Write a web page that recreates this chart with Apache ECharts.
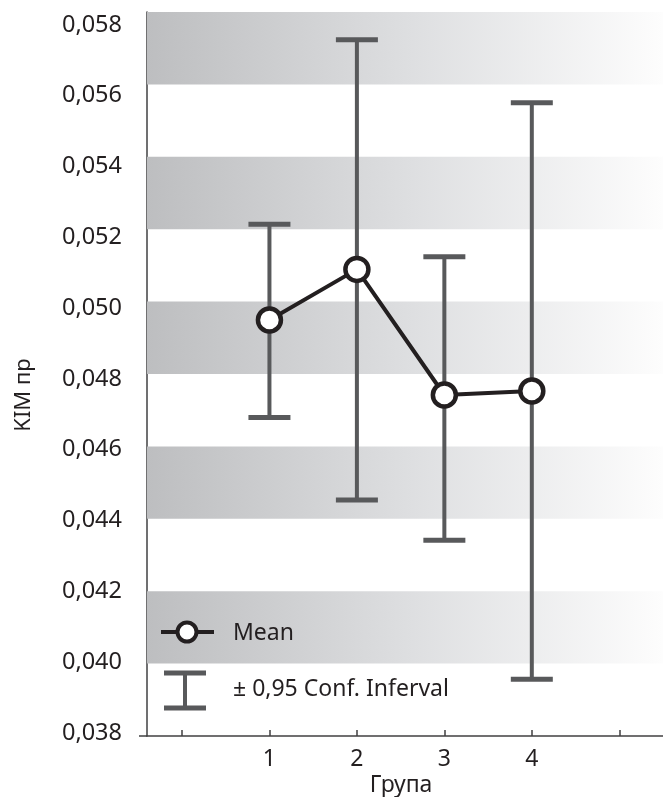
<!DOCTYPE html>
<html>
<head>
<meta charset="utf-8">
<script src="https://cdn.jsdelivr.net/npm/echarts@6/dist/echarts.min.js"></script>
<style>
html,body{margin:0;padding:0;background:#fff;}
#chart{width:663px;height:797px;}
</style>
</head>
<body>
<div id="chart"></div>
<script>
// ---- data ----
var categories = [1, 2, 3, 4];
var means   = [0.04949, 0.05089, 0.04742, 0.04753];
var ciLower = [0.04680, 0.04452, 0.04341, 0.03957];
var ciUpper = [0.05214, 0.05723, 0.05124, 0.05549];
var xTicks  = [0, 1, 2, 3, 4, 5];
var yTicks  = [0.038, 0.040, 0.042, 0.044, 0.046, 0.048, 0.050, 0.052, 0.054, 0.056, 0.058];
var bands   = [[0.040, 0.042], [0.044, 0.046], [0.048, 0.050], [0.052, 0.054], [0.056, 0.058]];
var xName = 'Група';
var yName = 'KIM пр';
var legendMean = 'Mean';
var legendCI = '± 0,95 Conf. Inferval';

var FONT = '"Noto Sans", sans-serif';
var TXT = '#231f20';
var BAR = '#58595b';
var AX = '#414042';

var chart = echarts.init(document.getElementById('chart'), null, {renderer: 'canvas'});

var bandGradient = {
  type: 'linear', x: 0, y: 0, x2: 1, y2: 0,
  colorStops: [
    {offset: 0, color: '#bdbec0'},
    {offset: 0.5, color: '#dddee0'},
    {offset: 1, color: '#fdfdfd'}
  ]
};

var lineData = categories.map(function (c, i) { return [c, means[i]]; });
var ciData = categories.map(function (c, i) { return [c, ciLower[i], ciUpper[i]]; });

var option = {
  animation: false,
  backgroundColor: '#fff',
  grid: {left: 147, right: 0, top: 12, bottom: 61, containLabel: false},
  xAxis: {
    type: 'value', min: -0.4, max: 5.5,
    axisLine: {show: true, onZero: false, lineStyle: {color: AX, width: 1.5}},
    axisTick: {show: true, inside: true, length: 6, customValues: xTicks, lineStyle: {color: AX, width: 1.5}},
    axisLabel: {show: true, customValues: categories, margin: 12, color: TXT, fontFamily: FONT, fontSize: 23},
    splitLine: {show: false}
  },
  yAxis: [
    {
      type: 'value', min: 0.038, max: 0.058, interval: 0.002,
      axisLine: {show: true, onZero: false, lineStyle: {color: AX, width: 1.5}},
      axisTick: {show: false},
      axisLabel: {show: false},
      splitLine: {show: false}
    },
    {
      type: 'value', position: 'left', min: 0.037916, max: 0.058364,
      axisLine: {show: false, onZero: false},
      axisTick: {show: false},
      splitLine: {show: false},
      axisLabel: {
        show: true, customValues: yTicks, margin: 25, color: TXT, fontFamily: FONT, fontSize: 23.5,
        formatter: function (v) { return v.toFixed(3).replace('.', ','); }
      }
    }
  ],
  series: [
    {
      name: 'bands', type: 'line', data: [], z: 0, silent: true,
      markArea: {
        silent: true,
        itemStyle: {color: bandGradient},
        data: bands.map(function (b) { return [{yAxis: b[0]}, {yAxis: b[1]}]; })
      }
    },
    {
      name: legendCI, type: 'custom', z: 2, data: ciData, silent: true,
      renderItem: function (params, api) {
        var x = api.value(0);
        var lo = api.coord([x, api.value(1)]);
        var hi = api.coord([x, api.value(2)]);
        var hw = 21;
        return {
          type: 'group',
          children: [
            {type: 'line', shape: {x1: lo[0], y1: lo[1], x2: hi[0], y2: hi[1]}, style: {stroke: BAR, lineWidth: 4}},
            {type: 'line', shape: {x1: hi[0] - hw, y1: hi[1], x2: hi[0] + hw, y2: hi[1]}, style: {stroke: BAR, lineWidth: 5}},
            {type: 'line', shape: {x1: lo[0] - hw, y1: lo[1], x2: lo[0] + hw, y2: lo[1]}, style: {stroke: BAR, lineWidth: 5}}
          ]
        };
      }
    },
    {
      name: legendMean, type: 'line', z: 5, data: lineData,
      symbol: 'circle', symbolSize: 23,
      itemStyle: {color: '#ffffff', borderColor: TXT, borderWidth: 4.5},
      lineStyle: {color: TXT, width: 4}
    }
  ],
  graphic: [
    {type: 'line', z: 10, shape: {x1: 139, y1: 736, x2: 147, y2: 736}, style: {stroke: AX, lineWidth: 1.5}},
    {type: 'text', z: 10, x: 24, y: 395, rotation: Math.PI / 2,
      style: {text: yName, fill: TXT, font: '22px ' + FONT, align: 'center', verticalAlign: 'middle'}},
    {type: 'text', z: 10, x: 401, y: 785,
      style: {text: xName, fill: TXT, font: '23px ' + FONT, align: 'center', verticalAlign: 'middle'}},
    // legend: mean
    {type: 'line', z: 10, shape: {x1: 161, y1: 632, x2: 214, y2: 632}, style: {stroke: TXT, lineWidth: 4}},
    {type: 'circle', z: 11, shape: {cx: 187, cy: 632, r: 9.5}, style: {fill: '#fff', stroke: TXT, lineWidth: 4}},
    {type: 'text', z: 10, x: 233, y: 633,
      style: {text: legendMean, fill: TXT, font: '23px ' + FONT, align: 'left', verticalAlign: 'middle'}},
    // legend: CI
    {type: 'line', z: 10, shape: {x1: 185, y1: 673, x2: 185, y2: 708}, style: {stroke: BAR, lineWidth: 4}},
    {type: 'line', z: 10, shape: {x1: 164, y1: 673, x2: 206, y2: 673}, style: {stroke: BAR, lineWidth: 5}},
    {type: 'line', z: 10, shape: {x1: 164, y1: 708, x2: 206, y2: 708}, style: {stroke: BAR, lineWidth: 5}},
    {type: 'text', z: 10, x: 233, y: 689,
      style: {text: legendCI, fill: TXT, font: '23px ' + FONT, align: 'left', verticalAlign: 'middle'}}
  ]
};

chart.setOption(option);
</script>
</body>
</html>
